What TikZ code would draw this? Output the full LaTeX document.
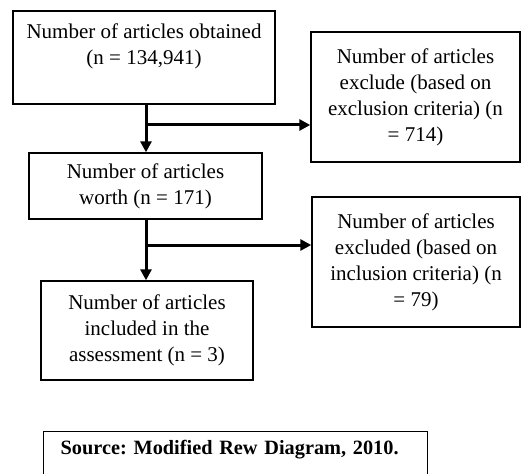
\documentclass[tikz,border=0pt]{standalone}
\usepackage{fontspec}
\setmainfont{Liberation Serif}
\usepackage{tikz}
\usetikzlibrary{arrows.meta}
\frenchspacing

\begin{document}
\begin{tikzpicture}[x=1pt, y=-1pt,
    box/.style={draw, line width=1.4pt, align=center, inner sep=0pt, font=\fontsize{21}{26}\selectfont},
    flow/.style={line width=3pt, -{Triangle[length=11pt, width=11pt]}}]
    % Page frame
    \clip (0,0) rectangle (526,473);

    % Draw boxes of the main column
    \node[box, minimum width=262pt, minimum height=93pt] (obt) at (144,57.5) {Number of articles obtained\\(n = 134,941)\\\mbox{}};
    \node[box, minimum width=233pt, minimum height=66pt] (worth) at (145.5,186) {Number of articles\\worth (n = 171)};
    \node[box, minimum width=212pt, minimum height=99pt] (incl) at (147,330.5) {Number of articles\\included in the\\assessment (n = 3)};

    % Draw boxes of the exclusions
    \node[box, minimum width=209pt, minimum height=130pt] (excl1) at (415.5,97) {Number of articles\\exclude (based on\\exclusion criteria) (n\\= 714)};
    \node[box, minimum width=208pt, minimum height=130pt] (excl2) at (416,262) {Number of articles\\excluded (based on\\inclusion criteria) (n\\= 79)};

    % Source note, open at the bottom
    \node[draw, line width=1.4pt, anchor=north west, align=left, inner xsep=17pt, inner ysep=8pt, text width=350pt, text depth=30pt, font=\bfseries\fontsize{20.3}{26}\selectfont] (src) at (43,431) {Source: Modified Rew Diagram, 2010.};

    % Junctions on the trunk
    \coordinate (j1) at (146,125);
    \coordinate (j2) at (146,245);

    % Draw arrows
    \draw[flow] (obt.south -| j1) -- (worth.north -| j1);
    \draw[flow] (j1) -- (excl1.west |- j1);
    \draw[flow] (worth.south -| j2) -- (incl.north -| j2);
    \draw[flow] (j2) -- (excl2.west |- j2);
\end{tikzpicture}
\end{document}
